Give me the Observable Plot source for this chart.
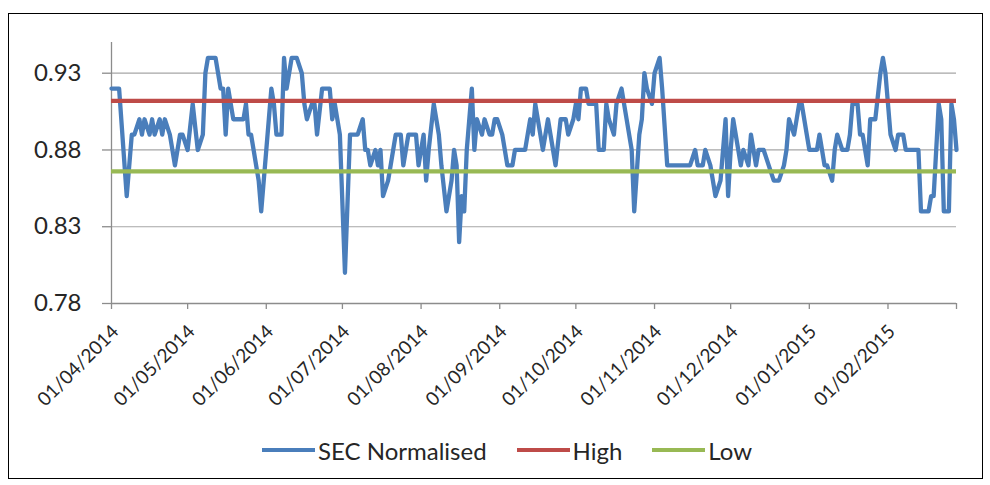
<!DOCTYPE html>
<html><head><meta charset="utf-8">
<script src="https://cdn.jsdelivr.net/npm/d3@7"></script>
<script src="https://cdn.jsdelivr.net/npm/@observablehq/plot@0.6"></script>
<style>
body{margin:0;background:#fff;font-family:Lato,sans-serif;}
#wrap{position:relative;width:990px;height:485px;overflow:hidden;background:#fff;}
#frame{position:absolute;left:8px;top:13px;width:975px;height:466px;border:1.5px solid #000;box-sizing:border-box;pointer-events:none;}
#chart{position:absolute;left:0;top:0;}
#legend{position:absolute;left:262px;top:436px;height:28px;display:flex;align-items:center;font-size:24px;color:#262626;white-space:nowrap;}
.item{display:flex;align-items:center;margin-right:30px}
.sw{width:53px;height:4px;margin-right:3px}
</style></head><body>
<div id="wrap"><div id="chart"></div><div id="legend"></div><div id="frame"></div></div>
<script>
const startDate = "2014-04-01";
const endDate = "2015-02-28";
const dayOffsets = [0,3,6,8,9,11,12,13,15,16,17,19,20,21,23,24,25,27,28,30,32,34,36,37,38,41,42,43,44,45,46,48,52,53,54,55,56,57,58,59,60,61,62,63,64,65,67,68,69,71,73,75,76,77,79,80,81,83,86,87,88,89,90,92,94,97,99,100,101,102,104,105,106,107,109,110,112,114,115,117,120,121,123,124,125,127,129,130,132,134,135,136,137,138,139,140,142,143,144,146,147,149,150,151,152,154,156,158,159,161,163,165,166,167,169,170,172,173,175,177,179,180,182,183,184,185,187,188,191,192,194,195,196,198,199,201,203,205,206,208,209,210,211,213,214,216,217,219,228,230,231,233,234,236,237,238,240,242,243,244,245,247,248,249,251,252,254,255,257,259,261,263,265,266,267,269,270,271,272,274,275,278,279,280,281,282,284,285,286,288,290,291,292,294,295,296,298,299,301,303,304,305,306,307,309,310,312,313,318,319,322,323,324,326,327,328,330,331,332,333];
const secValues = [0.92,0.92,0.85,0.89,0.89,0.90,0.89,0.90,0.89,0.90,0.89,0.90,0.89,0.90,0.89,0.88,0.87,0.89,0.89,0.88,0.91,0.88,0.89,0.93,0.94,0.94,0.93,0.92,0.92,0.89,0.92,0.90,0.90,0.91,0.89,0.89,0.88,0.87,0.86,0.84,0.86,0.88,0.90,0.92,0.91,0.89,0.89,0.94,0.92,0.94,0.94,0.93,0.91,0.90,0.91,0.91,0.89,0.92,0.92,0.90,0.91,0.90,0.89,0.80,0.89,0.89,0.90,0.88,0.88,0.87,0.88,0.87,0.88,0.85,0.86,0.87,0.89,0.89,0.87,0.89,0.89,0.87,0.89,0.86,0.88,0.91,0.89,0.87,0.84,0.86,0.88,0.87,0.82,0.85,0.84,0.88,0.92,0.88,0.90,0.89,0.90,0.89,0.89,0.90,0.90,0.89,0.87,0.87,0.88,0.88,0.88,0.90,0.89,0.91,0.89,0.88,0.90,0.89,0.87,0.90,0.90,0.89,0.90,0.91,0.90,0.92,0.92,0.91,0.91,0.88,0.88,0.91,0.90,0.89,0.91,0.92,0.90,0.88,0.84,0.89,0.90,0.93,0.92,0.91,0.93,0.94,0.92,0.87,0.87,0.88,0.87,0.87,0.88,0.87,0.86,0.85,0.86,0.90,0.85,0.88,0.90,0.88,0.87,0.88,0.87,0.89,0.87,0.88,0.88,0.87,0.86,0.86,0.87,0.88,0.90,0.89,0.90,0.91,0.91,0.89,0.88,0.88,0.89,0.88,0.87,0.87,0.86,0.88,0.89,0.88,0.88,0.89,0.91,0.91,0.89,0.89,0.87,0.90,0.90,0.93,0.94,0.93,0.91,0.89,0.88,0.89,0.89,0.88,0.88,0.84,0.84,0.85,0.85,0.91,0.90,0.84,0.84,0.91,0.90,0.88];
const highValue = 0.912;
const lowValue = 0.866;
const yTicks = [0.78, 0.83, 0.88, 0.93];
const yGrid = [0.83, 0.88, 0.93];
const yDomain = [0.78, 0.95];
const monthTicks = ["2014-04-01","2014-05-01","2014-06-01","2014-07-01","2014-08-01","2014-09-01","2014-10-01","2014-11-01","2014-12-01","2015-01-01","2015-02-01"];
const seriesNames = ["SEC Normalised","High","Low"];
const seriesColors = ["#4a7ebb","#be4b48","#98b954"];

const parse = d3.utcParse("%Y-%m-%d");
const fmt = d3.utcFormat("%d/%m/%Y");
const start = parse(startDate), end = parse(endDate);
const data = dayOffsets.map((d, i) => ({date: d3.utcDay.offset(start, d), value: secValues[i]}));
const labelDates = monthTicks.map(parse);
const tickDates = labelDates.concat([end]);
const axisGray = "#8c8c8c";

const chart = Plot.plot({
  width: 990, height: 420,
  marginLeft: 111, marginRight: 34, marginTop: 42, marginBottom: 117,
  style: {fontFamily: "Lato, sans-serif", background: "transparent", overflow: "visible"},
  x: {type: "utc", domain: [start, end], axis: null},
  y: {domain: yDomain, axis: null},
  marks: [
    Plot.ruleY(yGrid, {stroke: "#a6a6a6", strokeWidth: 1.2}),
    Plot.ruleY([yDomain[0]], {stroke: axisGray, strokeWidth: 1.3}),
    Plot.ruleX([start], {y1: yDomain[0], y2: yDomain[1], stroke: axisGray, strokeWidth: 1.3}),
    Plot.axisY({ticks: yTicks, label: null, tickSize: 9, tickPadding: 21, tickFormat: d3.format(".2f"), fontSize: 24, stroke: axisGray, fill: "#262626", strokeWidth: 1.3}),
    Plot.axisX({ticks: tickDates, label: null, tickSize: 6, tickFormat: () => "", stroke: axisGray, strokeWidth: 1.3}),
    Plot.text(labelDates, {x: d => d, frameAnchor: "bottom", text: d => fmt(d), rotate: -45, textAnchor: "end", lineAnchor: "middle", dy: 25, dx: 4, fontSize: 19, fill: "#262626"}),
    Plot.line(data, {x: "date", y: "value", stroke: seriesColors[0], strokeWidth: 4.3, strokeLinejoin: "round"}),
    Plot.ruleY([highValue], {stroke: seriesColors[1], strokeWidth: 4.3}),
    Plot.ruleY([lowValue], {stroke: seriesColors[2], strokeWidth: 4.3})
  ]
});
document.getElementById("chart").appendChild(chart);

const legend = document.getElementById("legend");
seriesNames.forEach((n, i) => {
  const it = document.createElement("div"); it.className = "item";
  const sw = document.createElement("div"); sw.className = "sw"; sw.style.background = seriesColors[i];
  const tx = document.createElement("span"); tx.textContent = n;
  it.appendChild(sw); it.appendChild(tx); legend.appendChild(it);
});
</script></body></html>
